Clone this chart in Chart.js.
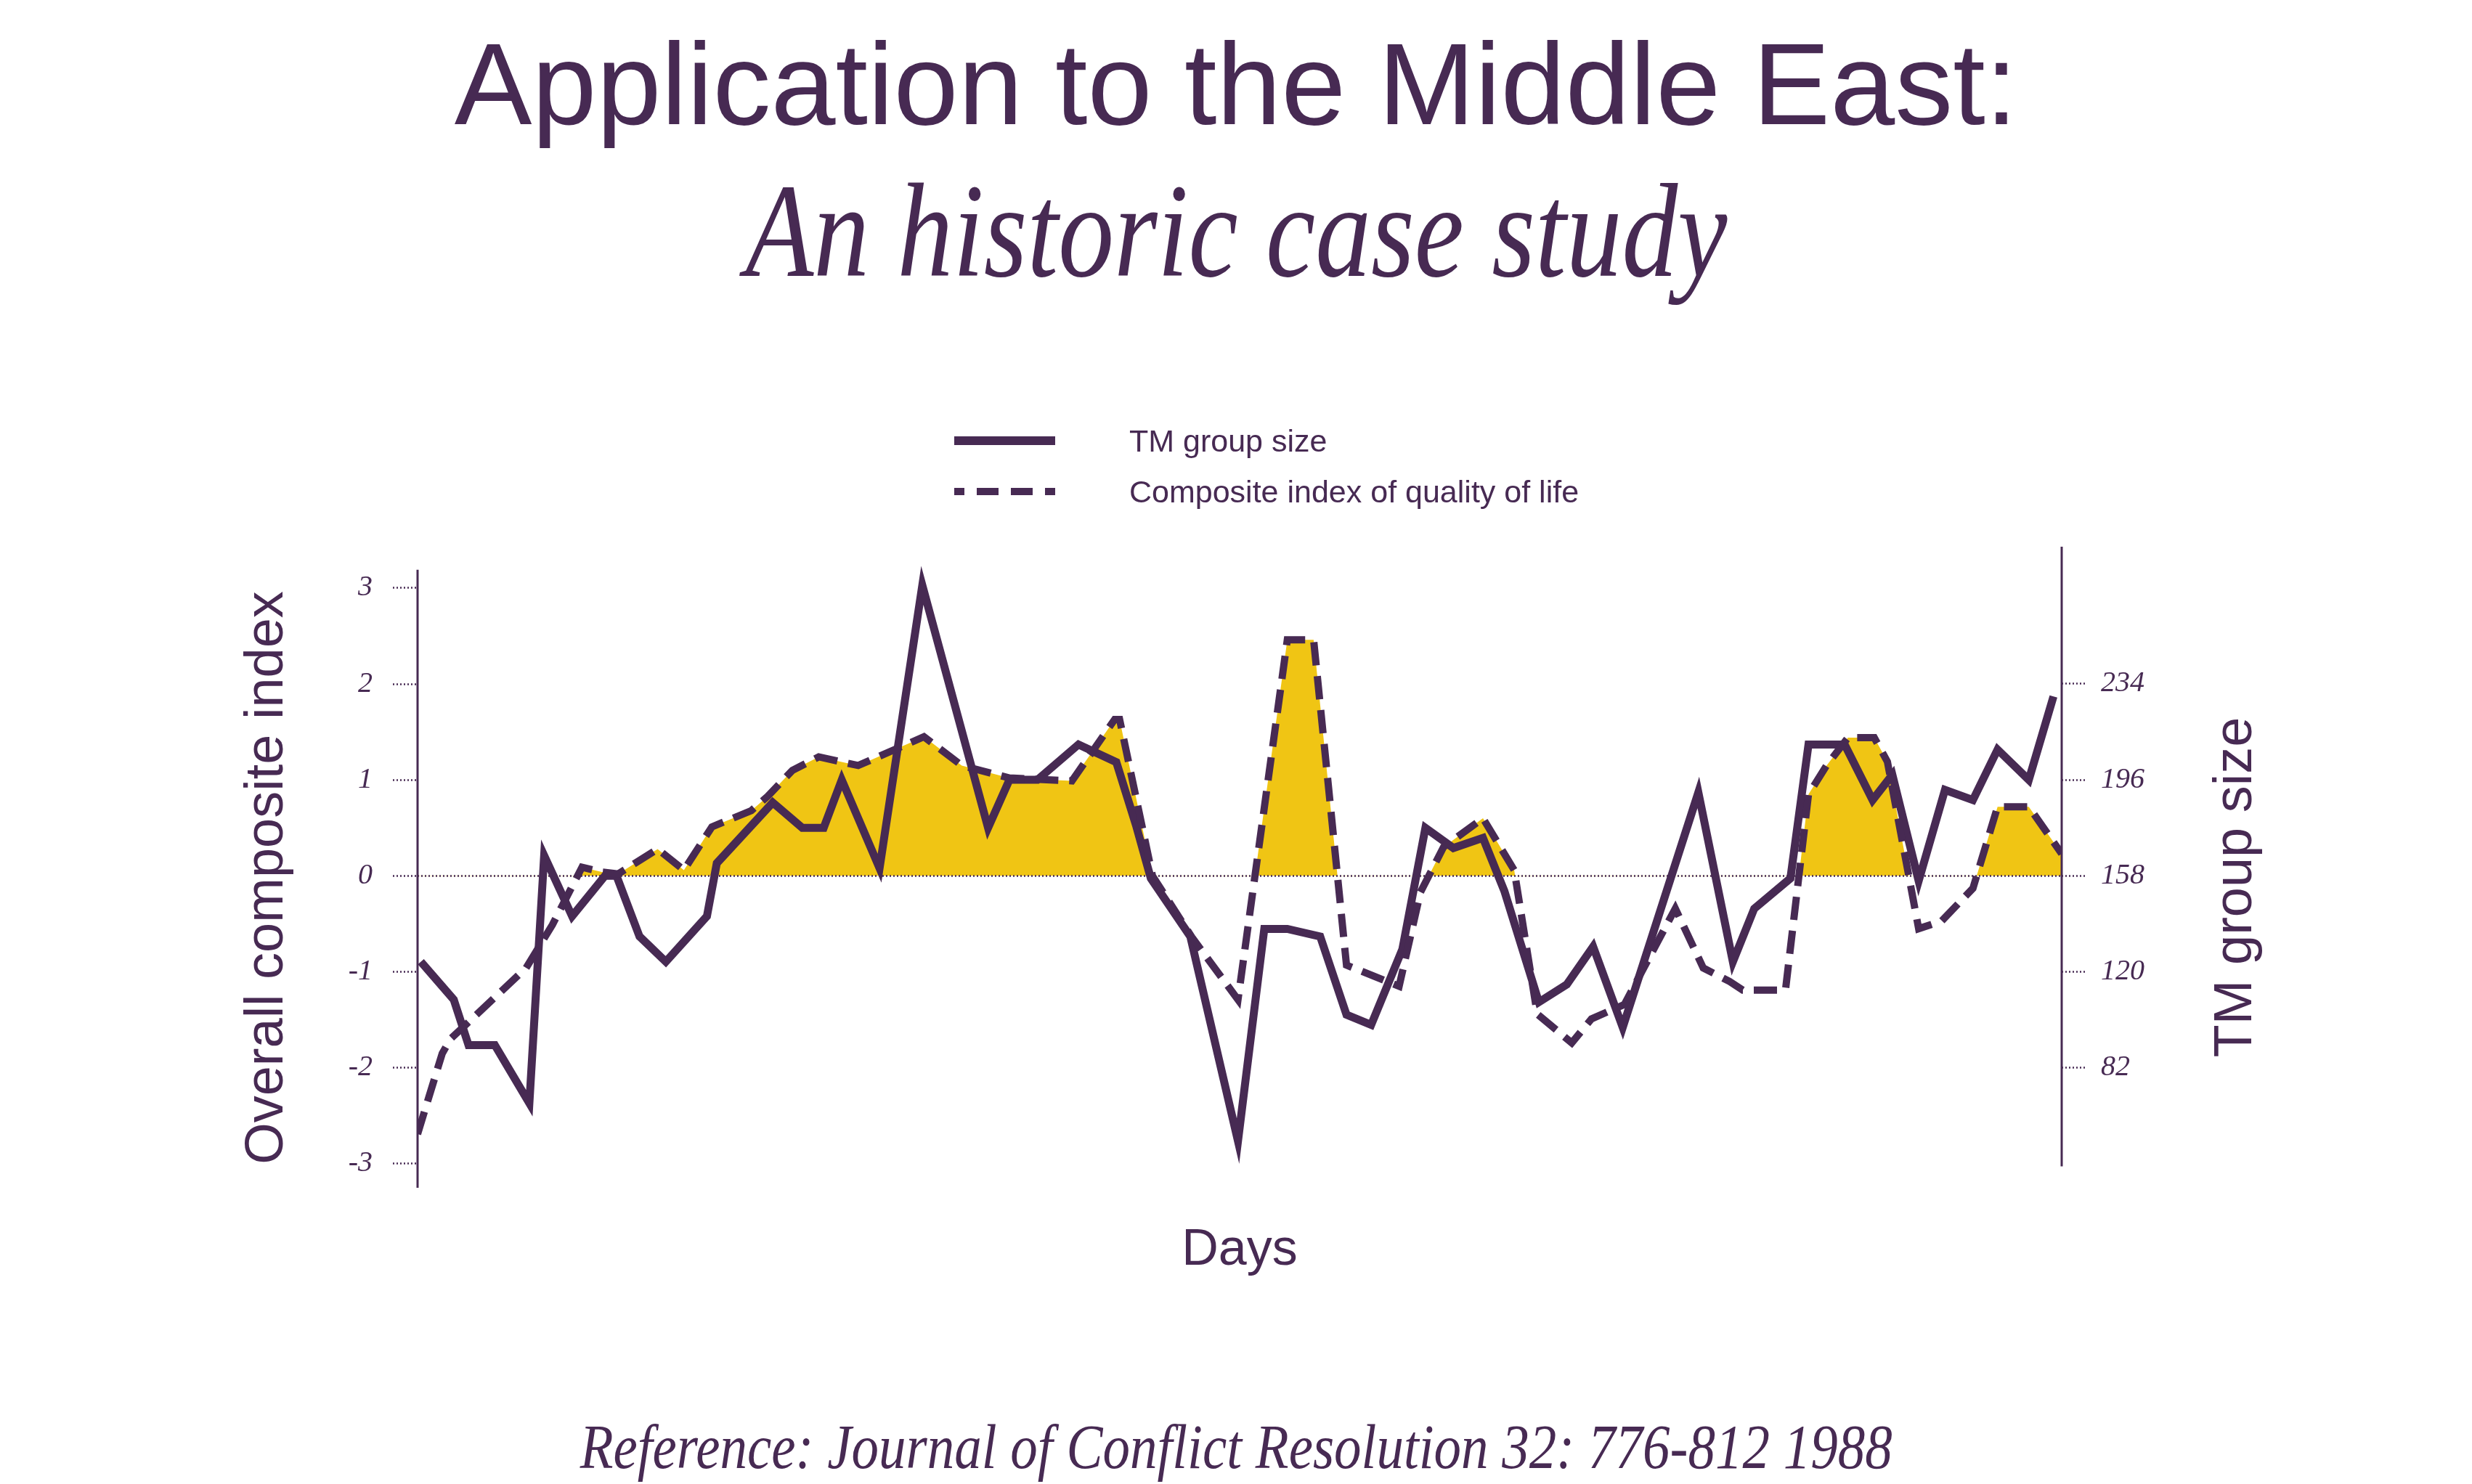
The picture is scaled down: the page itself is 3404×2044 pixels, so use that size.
<!DOCTYPE html>
<html>
<head>
<meta charset="utf-8">
<title>Application to the Middle East</title>
<script src="https://cdn.jsdelivr.net/npm/chart.js@4.4.1/dist/chart.umd.min.js"></script>
<style>
  html, body { margin: 0; padding: 0; background: #fff; overflow: hidden; }
  #page { position: relative; width: 3404px; height: 2044px; color: #472a53; }
  #chartBox { position: absolute; left: 0; top: 0; width: 3404px; height: 2044px; }
  .line { position: absolute; left: 0; width: 3404px; text-align: center; white-space: nowrap; }
  #title1 { top: 36px; font: 160px/160px "Liberation Sans", Arial, sans-serif; }
  #title2 { top: 225px; font: italic 185px/185px "Liberation Serif", serif; }
  #title2 span, #footer span { display: inline-block; }
  #title2 span { transform: scaleX(0.83); }
  #footer { top: 1950px; font: italic 86px/86px "Liberation Serif", serif; }
  #footer span { transform: scaleX(0.872); }
  #legend { position: absolute; left: 1314px; top: 572px; }
  .legend-row { display: flex; align-items: center; height: 70px; }
  .legend-row svg { margin-right: 102px; }
  .legend-row span { font: 43px/43px "Liberation Sans", Arial, sans-serif; }
</style>
</head>
<body>
<div id="page">
  <div id="chartBox"><canvas id="chart"></canvas></div>
  <div class="line" id="title1">Application to the Middle East:</div>
  <div class="line" id="title2"><span>An historic case study</span></div>
  <div id="legend"></div>
  <div class="line" id="footer"><span>Reference: Journal of Conflict Resolution 32: 776-812 1988</span></div>
</div>
<script>
var PURPLE = '#472a53';
var GOLD = '#f0c514';

// TM group size (solid line, right axis)
var tmDays = [0.2, 2.2, 3.1, 4.7, 6.8, 7.7, 9.4, 11.4, 12.1, 13.5, 15.1, 17.6, 18.2, 21.6,
  23.4, 24.7, 25.8, 28.1, 30.7, 34.7, 36.0, 37.7, 40.2, 42.5, 43.7, 44.6, 47.0, 49.9,
  51.5, 52.9, 54.9, 56.5, 58.0, 59.9, 61.3, 63.0, 64.8, 66.1, 68.2, 69.9, 71.5, 73.3,
  77.9, 80.0, 81.3, 83.5, 84.6, 86.8, 88.5, 89.7, 91.3, 92.9, 94.6, 96.1, 98.0, 99.5];
var tmSize = [124, 109, 91, 91, 68, 166, 142, 158, 158, 134, 124, 142, 163, 187,
  177, 177, 196, 161, 273, 177, 196, 196, 210, 203, 178, 157, 134, 53,
  137, 137, 134, 103, 99, 129, 177, 169, 173, 152, 108, 115, 130, 98,
  191, 124, 145, 157, 210, 210, 188, 198, 156, 192, 188, 208, 196, 229];

// composite index of quality of life (dashed line, left axis)
var qolDays = [0.0, 1.5, 2.0, 6.6, 8.2, 10.0, 11.2, 12.2, 14.6, 16.2, 17.9, 20.3, 21.3,
  22.8, 24.4, 26.8, 30.8, 33.1, 36.0, 39.8, 42.4, 42.7, 44.7, 47.1, 49.9, 52.9, 54.5,
  56.5, 59.7, 61.0, 62.4, 64.8, 66.7, 68.1, 70.2, 71.4, 73.4, 76.5, 78.2, 79.8, 80.6,
  83.2, 84.6, 85.7, 87.0, 88.6, 89.4, 91.3, 92.7, 94.6, 96.1, 98.0, 100];
var qolIndex = [-2.69, -1.85, -1.70, -0.96, -0.51, 0.09, 0.04, 0.02, 0.28, 0.06, 0.51, 0.68, 0.83,
  1.10, 1.24, 1.15, 1.45, 1.15, 1.02, 0.99, 1.63, 1.63, 0.0, -0.64, -1.29, 2.46, 2.46,
  -0.93, -1.15, -0.17, 0.30, 0.60, 0.06, -1.44, -1.74, -1.49, -1.34, -0.34, -0.96, -1.10, -1.19,
  -1.19, 0.85, 1.15, 1.44, 1.44, 1.19, -0.55, -0.47, -0.13, 0.72, 0.72, 0.23];

// tick labels
var indexTicks = [-3, -2, -1, 0, 1, 2, 3];
var sizeTicks = [82, 120, 158, 196, 234];

function points(xs, ys) {
  return xs.map(function(x, i) { return {x: x, y: ys[i]}; });
}

// dotted zero line and the two free-standing axis lines
var axisLines = {
  id: 'axisLines',
  beforeDatasetsDraw: function(chart) {
    var ctx = chart.ctx, a = chart.chartArea, y = chart.scales.y, y1 = chart.scales.y1;
    ctx.save();
    ctx.strokeStyle = PURPLE;
    ctx.lineWidth = 2.5;
    ctx.setLineDash([2, 3]);
    var y0 = y.getPixelForValue(0);
    ctx.beginPath();
    ctx.moveTo(a.left, y0);
    ctx.lineTo(a.right, y0);
    ctx.stroke();
    ctx.setLineDash([]);
    ctx.lineWidth = 3;
    ctx.beginPath();
    ctx.moveTo(a.left, y.getPixelForValue(3.19));
    ctx.lineTo(a.left, a.bottom);
    ctx.moveTo(a.right, a.top);
    ctx.lineTo(a.right, y1.getPixelForValue(43));
    ctx.stroke();
    ctx.restore();
  }
};

// both side titles read bottom-to-top
var sideTitles = {
  id: 'sideTitles',
  afterDraw: function(chart) {
    var ctx = chart.ctx, s = chart.options.scales;
    var items = [[389, 1209, s.y.title.text], [3100, 1222, s.y1.title.text]];
    ctx.save();
    ctx.fillStyle = PURPLE;
    ctx.font = '74px "Liberation Sans", Arial, sans-serif';
    ctx.textAlign = 'center';
    ctx.textBaseline = 'alphabetic';
    items.forEach(function(it) {
      ctx.save();
      ctx.translate(it[0], it[1]);
      ctx.rotate(-Math.PI / 2);
      ctx.fillText(it[2], 0, 0);
      ctx.restore();
    });
    ctx.restore();
  }
};

// legend built from the datasets
var htmlLegend = {
  id: 'htmlLegend',
  afterUpdate: function(chart) {
    var box = document.getElementById('legend');
    var ns = 'http://www.w3.org/2000/svg';
    box.innerHTML = '';
    chart.data.datasets.forEach(function(ds) {
      var row = document.createElement('div');
      row.className = 'legend-row';
      var svg = document.createElementNS(ns, 'svg');
      svg.setAttribute('width', 139);
      svg.setAttribute('height', 14);
      var ln = document.createElementNS(ns, 'line');
      ln.setAttribute('x1', 0); ln.setAttribute('x2', 139);
      ln.setAttribute('y1', 7); ln.setAttribute('y2', 7);
      ln.setAttribute('stroke', ds.borderColor);
      if (ds.borderDash) {
        ln.setAttribute('stroke-width', 10);
        ln.setAttribute('stroke-dasharray', '30 17');
        ln.setAttribute('stroke-dashoffset', 16);
      } else {
        ln.setAttribute('stroke-width', 12);
      }
      svg.appendChild(ln);
      var txt = document.createElement('span');
      txt.textContent = ds.label;
      row.appendChild(svg);
      row.appendChild(txt);
      box.appendChild(row);
    });
  }
};

var tickFont = {family: '"Liberation Serif", serif', style: 'italic', size: 40};
var tickGrid = {drawOnChartArea: false, tickLength: 34, tickColor: PURPLE, tickWidth: 2.5, tickBorderDash: [2, 3]};

new Chart(document.getElementById('chart'), {
  type: 'line',
  data: {
    datasets: [
      {
        label: 'TM group size',
        data: points(tmDays, tmSize),
        yAxisID: 'y1',
        borderColor: PURPLE,
        borderWidth: 11,
        borderJoinStyle: 'miter',
        pointRadius: 0,
        fill: false,
        order: 1
      },
      {
        label: 'Composite index of quality of life',
        data: points(qolDays, qolIndex),
        yAxisID: 'y',
        borderColor: PURPLE,
        borderWidth: 10,
        borderDash: [32, 15],
        borderJoinStyle: 'miter',
        pointRadius: 0,
        fill: {target: 'origin', above: GOLD, below: 'rgba(0,0,0,0)'},
        order: 0
      }
    ]
  },
  options: {
    responsive: true,
    maintainAspectRatio: false,
    animation: false,
    layout: {padding: {top: 753, bottom: 208, left: 0, right: 0}},
    plugins: {
      legend: {display: false},
      tooltip: {enabled: false},
      filler: {drawTime: 'beforeDatasetsDraw'}
    },
    scales: {
      x: {
        type: 'linear', min: 0, max: 100,
        ticks: {display: false},
        grid: {display: false},
        border: {display: false},
        title: {display: true, text: 'Days', color: PURPLE,
                font: {family: '"Liberation Sans", Arial, sans-serif', size: 70},
                padding: {top: 0, bottom: 71}},
        afterFit: function(s) { s.height = 200; }
      },
      y: {
        position: 'left', min: -3.25, max: 3.43,
        afterBuildTicks: function(s) { s.ticks = indexTicks.map(function(v) { return {value: v}; }); },
        afterFit: function(s) { s.width = 575; },
        ticks: {color: PURPLE, font: tickFont, padding: 28},
        grid: tickGrid,
        border: {display: false},
        title: {display: false, text: 'Overall composite index'}
      },
      y1: {
        position: 'right', min: 34.5, max: 288.3,
        afterBuildTicks: function(s) { s.ticks = sizeTicks.map(function(v) { return {value: v}; }); },
        afterFit: function(s) { s.width = 565; },
        ticks: {color: PURPLE, font: tickFont, padding: 20},
        grid: tickGrid,
        border: {display: false},
        title: {display: false, text: 'TM group size'}
      }
    }
  },
  plugins: [axisLines, sideTitles, htmlLegend]
});
</script>
</body>
</html>
